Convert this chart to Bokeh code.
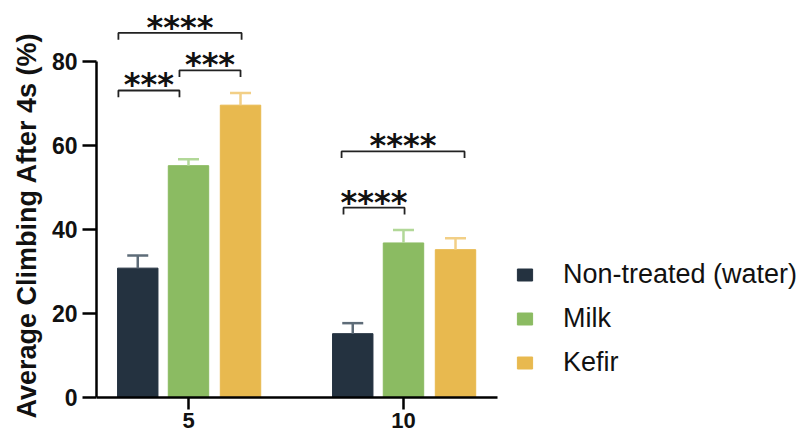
from bokeh.plotting import figure
from bokeh.models import (ColumnDataSource, Whisker, LinearAxis, FixedTicker,
                          Legend, LegendItem, TeeHead, Range1d)
from bokeh.core.properties import value
from bokeh.embed import file_html
from bokeh.resources import INLINE

# Days of treatment (x categories) and groups
days = ["5", "10"]
groups = ["Non-treated (water)", "Milk", "Kefir"]

# Mean climbing (%) and SEM per group, one entry per day
water = [30.8, 15.2]
water_err = [3.0, 2.5]
milk = [55.2, 36.8]
milk_err = [1.5, 3.1]
kefir = [69.6, 35.2]
kefir_err = [2.9, 2.7]

# Significance brackets: ends on the day axis (day 5 = 0, day 10 = 1), height, label
bracket_x0 = [-0.326, -0.326, -0.042, 0.712, 0.721]
bracket_x1 = [0.247, -0.042, 0.242, 1.284, 1.005]
bracket_y = [86.8, 73.1, 77.9, 58.6, 45.2]
bracket_labels = ["****", "***", "***", "****", "****"]

colors = ["#243240", "#8bbb62", "#e8b94f"]
err_colors = ["#5e6c78", "#b2d898", "#f2cf86"]
offsets = [-0.236, 0.0, 0.242]
bar_width = 0.188
FONT = "Liberation Sans"

p = figure(width=802, height=436,
           x_range=Range1d(-0.4279, 2.856), y_range=Range1d(-9.286, 91.19),
           output_backend="svg", toolbar_location=None, x_axis_location=None,
           min_border_left=96, min_border_right=0, min_border_top=14,
           min_border_bottom=0, background_fill_color="white",
           border_fill_color="white")
p.outline_line_color = None
p.xgrid.visible = False
p.ygrid.visible = False

series = [water, milk, kefir]
errors = [water_err, milk_err, kefir_err]
items = []
for name, vals, errs, off, col, ecol in zip(groups, series, errors, offsets,
                                             colors, err_colors):
    xs = [i + off for i in range(len(days))]
    src = ColumnDataSource(dict(x=xs, top=vals,
                                upper=[v + e for v, e in zip(vals, errs)]))
    r = p.vbar(x="x", top="top", bottom=0, width=bar_width, source=src,
               fill_color=col, line_color=col, line_width=1)
    items.append(LegendItem(label=name, renderers=[r]))
    w = Whisker(base="x", lower="top", upper="upper", source=src,
                dimension="height", line_color=ecol, line_width=2.5,
                lower_head=None,
                upper_head=TeeHead(size=21, line_color=ecol, line_width=2.5),
                level="overlay")
    p.add_layout(w)

# brackets with short downward ticks at both ends
drop = 1.6
bx = [[a, a, b, b] for a, b in zip(bracket_x0, bracket_x1)]
by = [[y - drop, y, y, y - drop] for y in bracket_y]
p.multi_line(xs=bx, ys=by, line_color="#222222", line_width=1.8)
p.text(x=[(a + b) / 2 for a, b in zip(bracket_x0, bracket_x1)], y=bracket_y,
       text=bracket_labels, text_align="center", text_baseline="middle",
       y_offset=-6, text_font=value("DejaVu Sans"), text_font_style="bold",
       text_font_size="32px", text_color="#111111")

# y axis
yax = p.yaxis[0]
yax.ticker = FixedTicker(ticks=[0, 20, 40, 60, 80])
yax.bounds = (0, 80)
yax.axis_label = "Average Climbing After 4s (%)"
yax.axis_label_text_font = FONT
yax.axis_label_text_font_style = "bold"
yax.axis_label_text_font_size = "27px"
yax.axis_label_text_color = "#111111"
yax.axis_label_standoff = 7
yax.major_label_text_font = FONT
yax.major_label_text_font_style = "bold"
yax.major_label_text_font_size = "23px"
yax.major_label_text_color = "#111111"
yax.major_label_standoff = 5
yax.axis_line_width = 2.5
yax.major_tick_line_width = 2.5
yax.major_tick_out = 14
yax.major_tick_in = 0
yax.minor_tick_line_color = None

# x axis sits at y = 0
xax = LinearAxis(ticker=FixedTicker(ticks=[0, 1]),
                 major_label_overrides={i: d for i, d in enumerate(days)},
                 fixed_location=0, bounds=(-0.4279, 1.437))
xax.major_label_text_font = FONT
xax.major_label_text_font_style = "bold"
xax.major_label_text_font_size = "22px"
xax.major_label_text_color = "#111111"
xax.major_label_standoff = 4
xax.axis_line_width = 2.5
xax.major_tick_line_width = 2.5
xax.major_tick_out = 12
xax.major_tick_in = 0
xax.minor_tick_line_color = None
p.add_layout(xax, "below")

legend = Legend(items=items, location=(419, 58), padding=0, margin=0,
                spacing=13, glyph_width=19, glyph_height=15, label_height=15,
                label_standoff=29, border_line_color=None,
                background_fill_alpha=0, label_text_font=FONT,
                label_text_font_size="27px", label_text_color="#111111")
p.add_layout(legend)

open("out.html", "w").write(file_html(p, INLINE))
